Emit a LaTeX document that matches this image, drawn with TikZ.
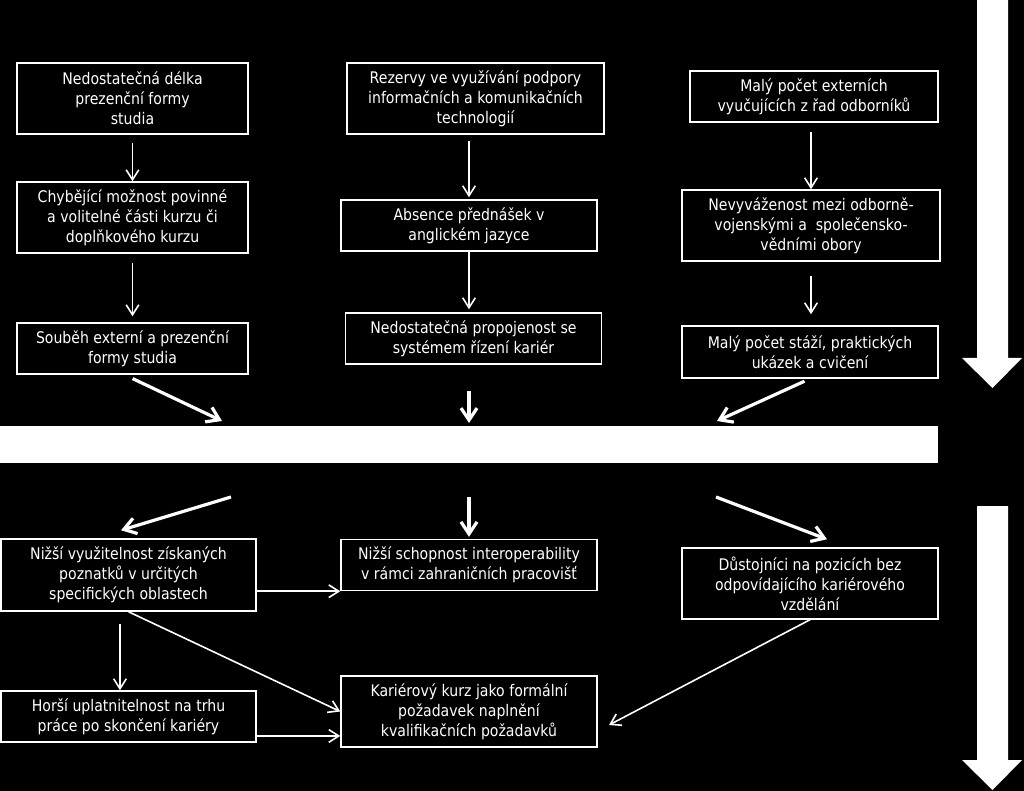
\documentclass[tikz,border=0pt]{standalone}
\usepackage{fontspec}
\setmainfont{DejaVu Sans}[FakeStretch=0.88]
\usepackage{tikz}
\usetikzlibrary{positioning,arrows.meta,calc}
\tikzset{
  cell/.style={draw=white, line width=1.1pt, text=white, align=center, inner sep=2pt, minimum width=192pt, minimum height=38.25pt, font=\fontsize{12}{15}\selectfont},
  tall/.style={minimum height=53.25pt},
  arr/.style={-{Straight Barb[length=7.5pt,width=9.5pt]}, line width=1.2pt, draw=white},
  fat/.style={-{Straight Barb[length=9pt,width=12pt]}, line width=2.4pt, draw=white},
}
\begin{document}
\begin{tikzpicture}[x=0.75pt,y=-0.75pt]
    \path[use as bounding box, fill=black] (0,0) rectangle (1024,791);
    \node[cell, tall, minimum width=173.25pt] (a1) at (132.5,98.5) {Nedostatečná délka\\prezenční formy\\studia};
    \node[cell, tall, minimum width=173.25pt] (a2) at (132.5,217.5) {Chybějící možnost povinné\\a volitelné části kurzu či\\doplňkového kurzu};
    \node[cell, minimum width=173.25pt] (a3) at (132.5,348.5) {Souběh externí a prezenční\\formy studia};
    \node[cell, tall, minimum width=192.75pt] (b1) at (475.5,98.5) {Rezervy ve využívání podpory\\informačních a komunikačních\\technologií};
    \node[cell] (b2) at (469,225.5) {Absence přednášek v\\anglickém jazyce};
    \node[cell] (b3) at (473.5,338.5) {Nedostatečná propojenost se\\systémem řízení kariér};
    \node[cell, minimum width=186pt] (c1) at (814,96.5) {Malý počet externích\\vyučujících z řad odborníků};
    \node[cell, tall, minimum width=193.5pt] (c2) at (811,225.5) {Nevyváženost mezi odborně-\\vojenskými a~~společensko-\\vědními obory};
    \node[cell, minimum height=39pt] (c3) at (810,352) {Malý počet stáží, praktických\\ukázek a cvičení};
    \node[fill=white, inner sep=0pt, minimum width=703.5pt, minimum height=27.75pt] (bar) at (469,444.5) {};
    \node[cell, minimum width=191.25pt, minimum height=54pt] (d1) at (128.5,575) {Nižší využitelnost získaných\\poznatků v určitých\\specifických oblastech};
    \node[cell] (d2) at (469,565) {Nižší schopnost interoperability\\v rámci zahraničních pracovišť};
    \node[cell, tall] (d3) at (810,583.5) {Důstojníci na pozicích bez\\odpovídajícího kariérového\\vzdělání};
    \node[cell, minimum width=191.25pt] (d4) at (128.5,716.5) {Horší uplatnitelnost na trhu\\práce po skončení kariéry};
    \node[cell, tall] (d5) at (469,711.5) {Kariérový kurz jako formální\\požadavek naplnění\\kvalifikačních požadavků};
    \coordinate (inl) at (222,421); \coordinate (inm) at (469,423); \coordinate (inr) at (717,421);
    \coordinate (outl) at (231,497); \coordinate (outm) at (469,497); \coordinate (outr) at (716,497);
    \coordinate (d5in) at (609,725);
    \draw[arr, shorten <=6pt] (a1) -- (a2);
    \draw[arr, shorten <=6.75pt, shorten >=4.5pt] (a2) -- (a3);
    \draw[arr, shorten <=4.5pt, shorten >=1.5pt] (b1.south -| b2.north) -- (b2.north);
    \draw[arr, shorten >=2.25pt] (b2.south) -- (b2.south |- b3.north);
    \draw[arr, shorten <=6.75pt] (c1.south -| c2.north) -- (c2.north);
    \draw[arr, shorten <=10.5pt, shorten >=8.25pt] (c2.south) -- (c2.south |- c3.north);
    \draw[fat, shorten <=6.75pt] ([xshift=-6pt]a3.south) -- (inl);
    \draw[fat, shorten <=19.5pt] (b3.south -| inm) -- (inm);
    \draw[fat, shorten <=4.5pt] (c3.south) -- (inr);
    \draw[fat] (outl) -- ([xshift=-5.6pt,yshift=6pt]d1.north);
    \draw[fat, shorten >=1.5pt] (outm) -- (d2.north);
    \draw[fat] (outr) -- ([xshift=12.75pt,yshift=6pt]d3.north);
    \draw[arr] (d1.east |- d2.south west) -- (d2.south west);
    \draw[arr, shorten <=9pt] ([xshift=-6.4pt]d1.south) -- ([xshift=-6.4pt]d4.north);
    \draw[arr] (d1.south) -- (d5.west);
    \draw[arr] ([yshift=-14.6pt]d4.east) -- ([yshift=-14.6pt]d4.east -| d5.west);
    \draw[arr] (d3.south) -- (d5in);
    \fill[white] (977,0) -- (1008,0) -- (1008,358) -- (1022,358) -- (992.5,388) -- (962,358) -- (977,358) -- cycle;
    \fill[white] (977,506) -- (1008,506) -- (1008,760) -- (1022,760) -- (992.5,790) -- (962,760) -- (977,760) -- cycle;
  \end{tikzpicture}
\end{document}
